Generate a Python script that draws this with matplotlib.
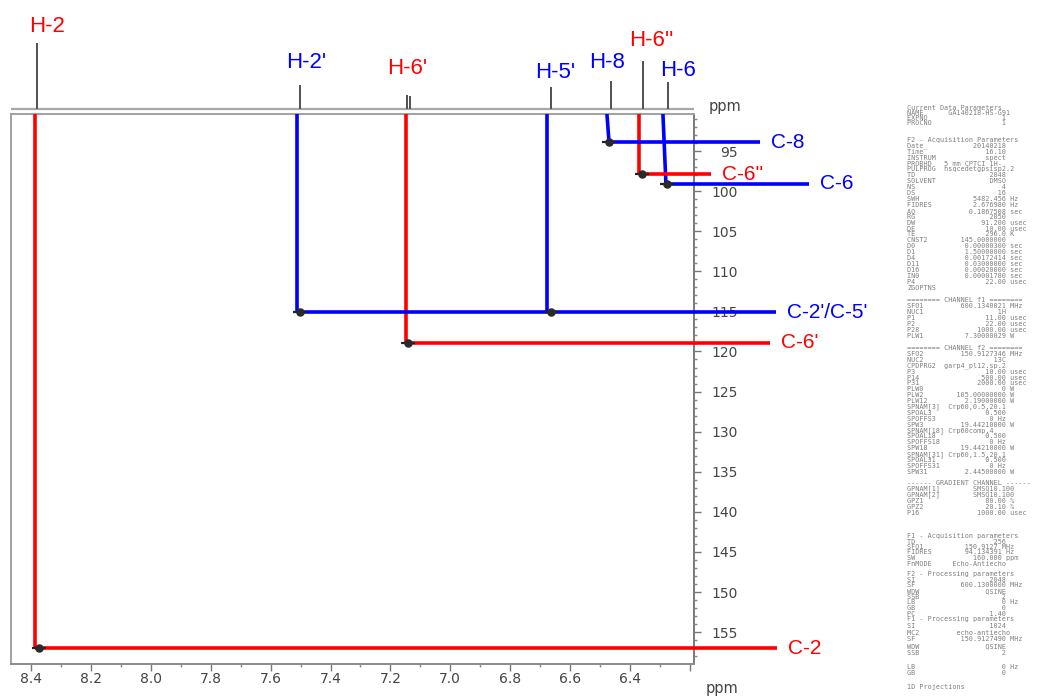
import matplotlib.pyplot as plt
import numpy as np
from matplotlib.ticker import MultipleLocator
from matplotlib.transforms import blended_transform_factory

# 1D proton trace shown above the 2D map (ppm, relative height)
peak_ppm = [8.379, 7.501, 7.145, 7.133, 6.664, 6.465, 6.357, 6.273]
peak_height = [66, 24, 14, 13, 22, 28, 48, 27]

# HSQC correlations, one per proton
proton_labels = ["H-2", "H-2'", "H-6'", "H-5'", "H-8", "H-6''", "H-6"]
cross_h_ppm = [8.372, 7.502, 7.141, 6.664, 6.470, 6.360, 6.278]
guide_top_ppm = [8.387, 7.513, 7.149, 6.676, 6.477, 6.369, 6.290]
guide_bot_ppm = [8.387, 7.513, 7.149, 6.676, 6.470, 6.369, 6.280]
proton_carbon = [0, 1, 2, 1, 3, 4, 5]
proton_colors = ["red", "blue", "red", "blue", "blue", "red", "blue"]

carbon_labels = ["C-2", "C-2'/C-5'", "C-6'", "C-8", "C-6''", "C-6"]
carbon_ppm = [157.0, 115.1, 118.9, 93.9, 97.9, 99.1]
carbon_colors = ["red", "blue", "red", "blue", "red", "blue"]

x_ticks = [8.4, 8.2, 8.0, 7.8, 7.6, 7.4, 7.2, 7.0, 6.8, 6.6, 6.4, 6.2]
x_ticklabels = ["8.4", "8.2", "8.0", "7.8", "7.6", "7.4", "7.2", "7.0",
                "6.8", "6.6", "6.4", ""]
y_ticks = [95, 100, 105, 110, 115, 120, 125, 130, 135, 140, 145, 150, 155]

# acquisition listing printed at the right of the spectrum
param_blocks = [
    (108, 5.0, ["Current Data Parameters",
                "NAME      GA140218-HS-G91",
                "EXPNO                  1",
                "PROCNO                 1"]),
    (140, 5.9, ["F2 - Acquisition Parameters",
                "Date_           20140218",
                "Time               16.10",
                "INSTRUM            spect",
                "PROBHD   5 mm CPTCI 1H-",
                "PULPROG  hsqcedetgpsisp2.2",
                "TD                  2048",
                "SOLVENT             DMSO",
                "NS                     4",
                "DS                    16",
                "SWH             5482.456 Hz",
                "FIDRES          2.676980 Hz",
                "AQ             0.1867508 sec",
                "RG                  2050",
                "DW                91.200 usec",
                "DE                 10.00 usec",
                "TE                 296.0 K",
                "CNST2        145.0000000",
                "D0            0.00000300 sec",
                "D1            1.50000000 sec",
                "D4            0.00172414 sec",
                "D11           0.03000000 sec",
                "D16           0.00020000 sec",
                "IN0           0.00001780 sec",
                "P4                 22.00 usec",
                "ZGOPTNS"]),
    (300, 6.0, ["======== CHANNEL f1 ========",
                "SFO1         600.1340021 MHz",
                "NUC1                  1H",
                "P1                 11.00 usec",
                "P2                 22.00 usec",
                "P28              1000.00 usec",
                "PLW1          7.30000029 W"]),
    (348, 5.9, ["======== CHANNEL f2 ========",
                "SFO2         150.9127346 MHz",
                "NUC2                 13C",
                "CPDPRG2  garp4_pl12.sp.2",
                "P3                 10.00 usec",
                "P14               500.00 usec",
                "P31              2000.00 usec",
                "PLW0                   0 W",
                "PLW2        105.00000000 W",
                "PLW12         2.19000000 W",
                "SPNAM[3]  Crp60,0.5,20.1",
                "SPOAL3             0.500",
                "SPOFFS3             0 Hz",
                "SPW3         19.44210000 W",
                "SPNAM[18] Crp60comp.4",
                "SPOAL18            0.500",
                "SPOFFS18            0 Hz",
                "SPW18        19.44210000 W",
                "SPNAM[31] Crp60,1.5,20.1",
                "SPOAL31            0.500",
                "SPOFFS31            0 Hz",
                "SPW31         2.44500000 W"]),
    (483, 6.0, ["------ GRADIENT CHANNEL ------",
                "GPNAM[1]        SMSQ10.100",
                "GPNAM[2]        SMSQ10.100",
                "GPZ1               80.00 %",
                "GPZ2               20.10 %",
                "P16              1000.00 usec"]),
    (536, 5.5, ["F1 - Acquisition parameters",
                "TD                   256",
                "SFO1          150.9127 MHz",
                "FIDRES        94.134391 Hz",
                "SW              160.000 ppm",
                "FnMODE     Echo-Antiecho"]),
    (574, 5.7, ["F2 - Processing parameters",
                "SI                  2048",
                "SF           600.1300000 MHz",
                "WDW                QSINE",
                "SSB                    2",
                "LB                     0 Hz",
                "GB                     0",
                "PC                  1.40"]),
    (619, 6.8, ["F1 - Processing parameters",
                "SI                  1024",
                "MC2         echo-antiecho",
                "SF           150.9127490 MHz",
                "WDW                QSINE",
                "SSB                    2",
                "",
                "LB                     0 Hz",
                "GB                     0",
                "",
                "1D Projections"]),
]

W, H = 1044, 698


def fx(px):
    return px / W


def fy(py):
    return 1 - py / H


fig = plt.figure(figsize=(W / 100, H / 100), dpi=100)

# 2D map
ax = fig.add_axes([fx(11), fy(664), fx(694) - fx(11), fy(114) - fy(664)])
xlim = (8.4668, 6.1863)
ax.set_xlim(*xlim)
ax.set_ylim(158.98, 90.38)

for side, col in [("left", "#a0a0a0"), ("top", "#a0a0a0"),
                  ("bottom", "#8a8a8a"), ("right", "#7a7a7a")]:
    ax.spines[side].set_color(col)
    ax.spines[side].set_linewidth(1.4)

ax.set_xticks(x_ticks)
ax.set_xticklabels(x_ticklabels, fontfamily="DejaVu Sans")
ax.xaxis.set_minor_locator(MultipleLocator(0.1))
ax.tick_params(axis="x", which="major", direction="out", length=5, width=1,
               color="#777777", pad=1, labelsize=10, labelcolor="#444444",
               top=False, bottom=True)
ax.tick_params(axis="x", which="minor", direction="out", length=2, width=1,
               color="#888888", top=False)

ax.yaxis.tick_right()
ax.set_yticks(y_ticks)
ax.set_yticklabels([str(v) for v in y_ticks], fontfamily="DejaVu Sans")
ax.yaxis.set_minor_locator(MultipleLocator(1))
ax.tick_params(axis="y", which="major", direction="out", length=5, width=1,
               color="#777777", pad=26.6, labelsize=10, labelcolor="#444444",
               left=False, right=True)
ax.tick_params(axis="y", which="minor", direction="out", length=2, width=1,
               color="#888888", left=False, right=True)
for lbl in ax.get_yticklabels():
    lbl.set_horizontalalignment("right")

# guide lines: vertical from the top, horizontal out to the carbon label
carbon_end = [1.1215, 1.1201, 1.1113, 1.0966, 1.0249, 1.1684]
lw = 2.6
ytop = ax.get_ylim()[1]
for i in range(len(proton_labels)):
    c = proton_carbon[i]
    col = proton_colors[i]
    ax.plot([guide_top_ppm[i], guide_bot_ppm[i]], [ytop, carbon_ppm[c]],
            color=col, lw=lw, solid_capstyle="butt", zorder=3)
for j in range(len(carbon_labels)):
    starts = [guide_bot_ppm[i] for i in range(len(proton_labels))
              if proton_carbon[i] == j]
    x_end = xlim[0] + carbon_end[j] * (xlim[1] - xlim[0])
    ax.plot([max(starts), x_end], [carbon_ppm[j], carbon_ppm[j]],
            color=carbon_colors[j], lw=lw, solid_capstyle="butt",
            clip_on=False, zorder=3)
    trans = blended_transform_factory(ax.transAxes, ax.transData)
    ax.text(carbon_end[j] + 0.0165, carbon_ppm[j], carbon_labels[j],
            transform=trans, color=carbon_colors[j], fontsize=15,
            fontfamily="Liberation Sans", ha="left", va="center",
            clip_on=False)

# cross peaks
ax.scatter(cross_h_ppm, [carbon_ppm[c] for c in proton_carbon],
           marker="_", s=90, color="#222222", linewidths=1.6, zorder=4)
ax.scatter(cross_h_ppm, [carbon_ppm[c] for c in proton_carbon],
           marker="o", s=26, color="#2a2a2a", zorder=5)

# 1D trace on top
ax_top = fig.add_axes([fx(11), fy(112), fx(694) - fx(11), fy(20) - fy(112)])
ax_top.set_xlim(*xlim)
ax_top.set_ylim(-3, 89)
ax_top.axis("off")
ax_top.axhline(0, color="#a8a8a8", lw=1.6, zorder=1)
ax_top.vlines(peak_ppm, 0, peak_height, color="#505050", lw=1.4, zorder=2)

label_dx = [12, 10, 2, 8, 0, 12, 15]
label_y = [26, 63, 68, 73, 63, 40, 70]
for i, name in enumerate(proton_labels):
    ax_top.annotate(name, xy=(guide_top_ppm[i], 0), xytext=(label_dx[i], 109 - label_y[i]),
                    textcoords="offset pixels", color=proton_colors[i],
                    fontsize=16, fontfamily="Liberation Sans",
                    ha="center", va="center", annotation_clip=False)

fig.text(fx(725), fy(106), "ppm", fontsize=10.5, color="#444444",
         fontfamily="DejaVu Sans", ha="center", va="center")
fig.text(fx(722), fy(688), "ppm", fontsize=10.5, color="#444444",
         fontfamily="DejaVu Sans", ha="center", va="center")

for y0, pitch, lines in param_blocks:
    for k, line in enumerate(lines):
        if line:
            fig.text(fx(907), fy(y0 + k * pitch), line, fontsize=4.9,
                     color="#7e7e7e", fontfamily="DejaVu Sans Mono",
                     ha="left", va="center")

fig.savefig("out.png", dpi=100, facecolor="white")
